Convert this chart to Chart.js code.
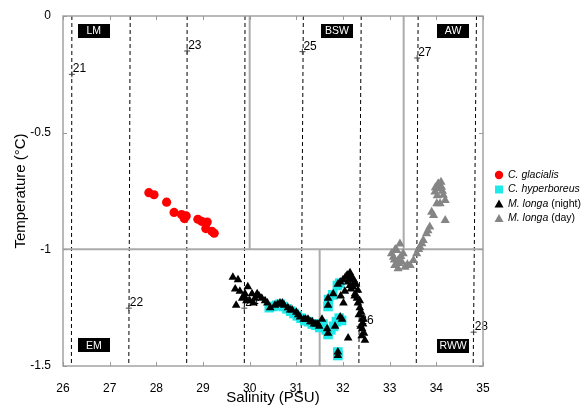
<!DOCTYPE html>
<html><head><meta charset="utf-8">
<script src="https://cdn.jsdelivr.net/npm/chart.js@4.4.0/dist/chart.umd.min.js"></script>
<style>html,body{margin:0;padding:0;background:#fff;}</style>
</head><body>
<canvas id="c" width="582" height="405"></canvas>
<script>
// ---- data ----
const glacSal  = [27.84,27.95,28.22,28.38,28.54,28.64,28.60,28.89,28.97,29.09,29.06,29.19,29.24];
const glacTemp = [-0.757,-0.766,-0.798,-0.842,-0.851,-0.857,-0.868,-0.871,-0.880,-0.883,-0.911,-0.923,-0.931];

const hypSal  = [30.42,30.50,30.58,30.65,30.72,30.80,30.88,30.95,31.02,31.10,31.18,31.26,31.34,31.42,31.50,31.57,31.64,31.68,31.74,31.80,31.86,31.92,31.97,31.89,31.89,31.68,31.69,31.78,31.88,31.93];
const hypTemp = [-1.25,-1.245,-1.24,-1.235,-1.245,-1.255,-1.265,-1.275,-1.285,-1.295,-1.305,-1.31,-1.32,-1.325,-1.335,-1.32,-1.345,-1.365,-1.345,-1.33,-1.31,-1.295,-1.305,-1.455,-1.44,-1.245,-1.215,-1.195,-1.155,-1.145];

const nightSal  = [29.64,29.75,29.69,29.79,29.96,29.71,29.90,30.05,30.16,30.26,30.00,30.11,29.88,30.33,30.44,30.54,30.65,30.74,30.82,30.91,31.00,31.08,31.16,31.25,31.34,31.42,31.49,31.55,31.66,31.68,31.83,31.94,31.98,31.89,31.89,31.68,31.68,31.79,31.89,31.94,32.00,32.09,32.15,32.19,32.11,32.21,32.26,32.30,32.32,32.36,32.39,32.41,32.43,32.41,32.45,32.47,32.11,32.04,32.15,32.23,32.28,32.32,32.01,31.95,30.38,30.60,30.70,30.87,31.04,31.20,31.30,31.38,31.46,32.05,32.13,32.17,32.25,32.34,32.38,32.40,32.44,32.36,32.22,29.84,30.08,30.20,29.93];
const nightTemp = [-1.12,-1.13,-1.17,-1.18,-1.16,-1.24,-1.19,-1.19,-1.19,-1.21,-1.22,-1.21,-1.20,-1.22,-1.25,-1.24,-1.23,-1.24,-1.25,-1.26,-1.27,-1.29,-1.30,-1.30,-1.31,-1.32,-1.33,-1.30,-1.34,-1.36,-1.33,-1.29,-1.30,-1.455,-1.44,-1.24,-1.21,-1.19,-1.15,-1.14,-1.13,-1.11,-1.10,-1.12,-1.14,-1.16,-1.19,-1.21,-1.23,-1.25,-1.27,-1.30,-1.32,-1.34,-1.36,-1.39,-1.38,-1.18,-1.155,-1.13,-1.15,-1.175,-1.23,-1.20,-1.23,-1.235,-1.23,-1.26,-1.28,-1.30,-1.31,-1.32,-1.32,-1.12,-1.13,-1.17,-1.20,-1.28,-1.33,-1.37,-1.30,-1.22,-1.15,-1.21,-1.23,-1.20,-1.22];

const daySal  = [34.04,34.11,33.97,34.15,34.19,34.01,33.90,34.19,33.86,33.79,33.72,33.65,33.58,33.51,33.44,33.33,33.22,33.15,33.08,33.18,33.11,33.29,33.04,33.26,33.18,34.08,33.94,34.10,34.06,33.98,34.13,33.82,33.69,33.62,33.38,33.12,33.20,33.24,33.10,34.02];
const dayTemp = [-0.718,-0.733,-0.754,-0.768,-0.79,-0.804,-0.84,-0.876,-0.904,-0.933,-0.961,-0.99,-1.018,-1.047,-1.069,-1.076,-0.976,-1.004,-1.033,-1.047,-1.069,-1.018,-1.018,-1.054,-1.083,-0.804,-0.854,-0.712,-0.74,-0.735,-0.75,-0.92,-0.975,-1.0,-1.065,-1.0,-1.06,-1.03,-1.045,-0.77];

const stationNames = ['21','22','23','24','25','26','27','28'];
const stationSal   = [26.19,27.41,28.66,29.885,31.13,32.35,33.59,34.80];
const stationTemp  = [-0.25,-1.252,-0.15,-1.252,-0.153,-1.33,-0.18,-1.355];
const dashTopSal   = [26.19,27.44,28.66,29.90,31.15,32.39,33.61,34.86];
const dashBotSal   = [26.18,27.41,28.65,29.885,31.10,32.34,33.57,34.79];

const waterNames = ['LM','BSW','AW','EM','RWW'];
const waterSal   = [26.66,31.87,34.36,26.66,34.36];
const waterTemp  = [-0.064,-0.064,-0.064,-1.412,-1.414];

// water-mass boundary lines: [sal1, temp1, sal2, temp2]
const boundSal1  = [26, 30.0, 33.3, 31.5];
const boundTemp1 = [-1, 0, 0, -1];
const boundSal2  = [35, 30.0, 33.3, 31.5];
const boundTemp2 = [-1, -1, -1, -1.5];

const xTicks = [26,27,28,29,30,31,32,33,34,35];
const yTicks = [0,-0.5,-1,-1.5];

const legendItalic = ['C. glacialis','C. hyperboreus','M. longa','M. longa'];
const legendPlain  = ['','',' (night)',' (day)'];

// ---- build ----
const pts = (xs, ys) => xs.map((v,i)=>({x:v, y:ys[i]}));
const FONT = "'Liberation Sans', Arial, Helvetica, sans-serif";
Chart.defaults.font.family = FONT;
Chart.defaults.color = '#000';

const datasets = [];
datasets.push({label:'C. glacialis', data:pts(glacSal,glacTemp), pointStyle:'circle', pointRadius:4.6, backgroundColor:'#ff0000', borderColor:'#ff0000', borderWidth:0, order:1});
datasets.push({label:'M. longa (night)', data:pts(nightSal,nightTemp), pointStyle:'triangle', pointRadius:5, backgroundColor:'#000', borderColor:'#000', borderWidth:0, order:1});
datasets.push({label:'C. hyperboreus', data:pts(hypSal,hypTemp), pointStyle:'rect', pointRadius:6.8, backgroundColor:'#1de9e9', borderColor:'#1de9e9', borderWidth:0, order:2});
datasets.push({label:'M. longa (day)', data:pts(daySal,dayTemp), pointStyle:'triangle', pointRadius:5.3, backgroundColor:'#858585', borderColor:'#858585', borderWidth:0, order:1});
datasets.push({label:'stations', data:pts(stationSal,stationTemp), pointStyle:'cross', pointRadius:3, borderColor:'#444', borderWidth:1, backgroundColor:'#444', order:5});
dashTopSal.forEach((v,i)=>{
  datasets.push({label:'d'+i, data:[{x:v,y:0},{x:dashBotSal[i],y:-1.5}], showLine:true, borderColor:'#000', borderWidth:1, borderDash:[4,3], pointRadius:0, order:7});
});
boundSal1.forEach((v,i)=>{
  datasets.push({label:'b'+i, data:[{x:v,y:boundTemp1[i]},{x:boundSal2[i],y:boundTemp2[i]}], showLine:true, borderColor:'#ababab', borderWidth:2, pointRadius:0, order:6});
});

const deco = {
  id:'deco',
  beforeDatasetsDraw(chart){
    const {ctx, scales:{x,y}} = chart;
    ctx.save();
    ctx.font = '12px ' + FONT; ctx.fillStyle = '#000'; ctx.textBaseline = 'alphabetic';
    stationNames.forEach((n,i)=>{
      ctx.fillText(n, x.getPixelForValue(stationSal[i]) + 1, y.getPixelForValue(stationTemp[i]) - 2);
    });
    ctx.restore();
  },
  afterDatasetsDraw(chart){
    const {ctx, chartArea:a, scales:{x,y}} = chart;
    ctx.save();
    ctx.strokeStyle = '#a3a3a3'; ctx.lineWidth = 1.5;
    ctx.strokeRect(a.left, a.top, a.right-a.left, a.bottom-a.top);
    ctx.lineWidth = 1; ctx.strokeStyle = '#999';
    ctx.beginPath();
    xTicks.forEach(t=>{ const p = Math.round(x.getPixelForValue(t))+0.5;
      ctx.moveTo(p,a.bottom); ctx.lineTo(p,a.bottom-4); ctx.moveTo(p,a.top); ctx.lineTo(p,a.top+4); });
    yTicks.forEach(t=>{ const p = Math.round(y.getPixelForValue(t))+0.5;
      ctx.moveTo(a.left,p); ctx.lineTo(a.left+4,p); ctx.moveTo(a.right,p); ctx.lineTo(a.right-4,p); });
    ctx.stroke();
    ctx.font = '10.5px ' + FONT; ctx.textAlign = 'center'; ctx.textBaseline = 'middle';
    waterNames.forEach((n,i)=>{
      const cx = x.getPixelForValue(waterSal[i]), cy = y.getPixelForValue(waterTemp[i]);
      ctx.fillStyle = '#000'; ctx.fillRect(Math.round(cx-16), Math.round(cy-7), 32, 14);
      ctx.fillStyle = '#fff'; ctx.fillText(n, cx, cy+0.5);
    });
    ctx.restore();
  },
  afterDraw(chart){
    const {ctx} = chart;
    ctx.save();
    const mx = 499, tx = 508, y0 = 175, dy = 14.5;
    const colors = ['#ff0000','#1de9e9','#000','#858585'];
    legendItalic.forEach((t,i)=>{
      const yy = y0 + i*dy;
      ctx.fillStyle = colors[i];
      ctx.beginPath();
      if (i===0) { ctx.arc(mx, yy, 4.2, 0, Math.PI*2); }
      else if (i===1) { ctx.rect(mx-4, yy-4, 8, 8); }
      else { ctx.moveTo(mx, yy-4.5); ctx.lineTo(mx+4.5, yy+3.5); ctx.lineTo(mx-4.5, yy+3.5); ctx.closePath(); }
      ctx.fill();
      ctx.fillStyle = '#000'; ctx.textBaseline = 'middle'; ctx.textAlign = 'left';
      ctx.font = 'italic 10.5px ' + FONT;
      ctx.fillText(t, tx, yy);
      const w = ctx.measureText(t).width;
      ctx.font = '10.5px ' + FONT;
      ctx.fillText(legendPlain[i], tx + w, yy);
    });
    ctx.restore();
  }
};

new Chart(document.getElementById('c'), {
  type:'scatter',
  data:{datasets},
  options:{
    responsive:false, animation:false,
    layout:{padding:{top:16, right:99, left:0, bottom:0}},
    plugins:{legend:{display:false}, tooltip:{enabled:false}},
    scales:{
      x:{type:'linear', min:26, max:35,
        afterFit(s){ s.height = 39; },
        afterBuildTicks(s){ s.ticks = xTicks.map(v=>({value:v})); },
        grid:{display:false}, border:{display:false},
        ticks:{padding:7, font:{size:12}, color:'#000', callback:v=>String(v)},
        title:{display:true, text:'Salinity (PSU)', font:{size:15, lineHeight:1}, padding:{top:0,bottom:0}, color:'#000'}
      },
      y:{type:'linear', min:-1.5, max:0,
        afterFit(s){ s.width = 63; },
        afterBuildTicks(s){ s.ticks = yTicks.map(v=>({value:v})); },
        grid:{display:false}, border:{display:false},
        ticks:{padding:4, font:{size:12}, color:'#000', callback:v=>String(v)},
        title:{display:true, text:'Temperature (°C)', font:{size:15, lineHeight:1}, padding:{top:13,bottom:0}, color:'#000'}
      }
    }
  },
  plugins:[deco]
});
</script>
</body></html>
